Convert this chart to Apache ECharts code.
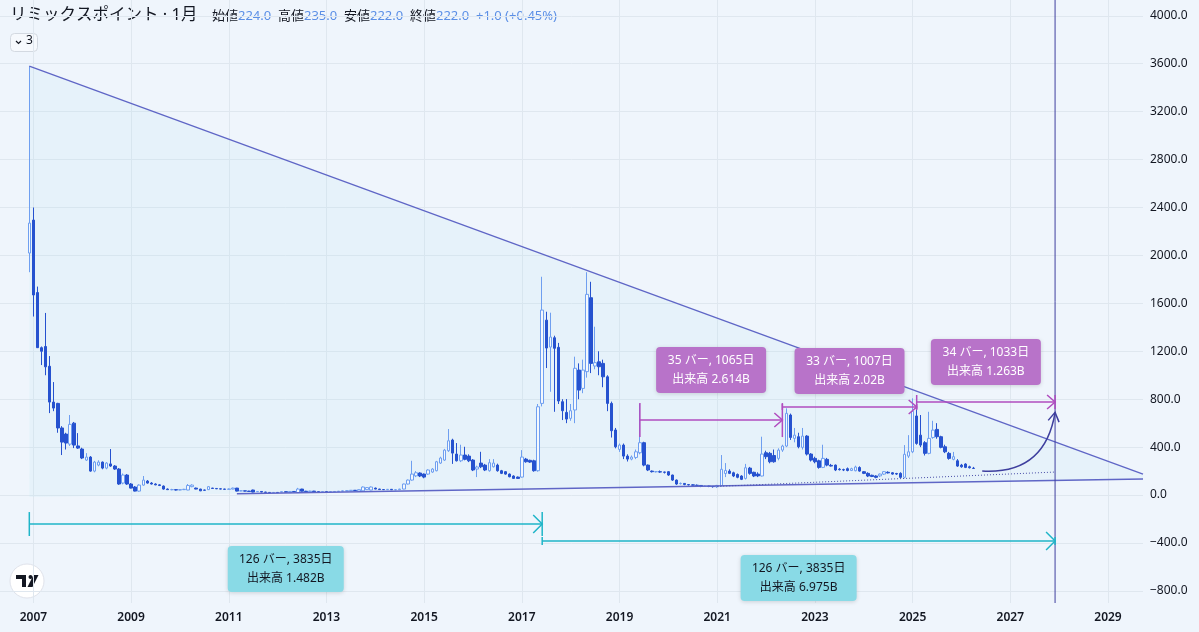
<!DOCTYPE html>
<html>
<head>
<meta charset="utf-8">
<script src="https://cdn.jsdelivr.net/npm/echarts@6/dist/echarts.min.js"></script>
<style>
  html, body { margin: 0; padding: 0; background: #eff5fc; }
  #chart { width: 1199px; height: 632px; }
</style>
</head>
<body>
<div id="chart"></div>
<script>
// months are counted from Jan 2007 (0); first candle is Dec 2006
const firstMonth = -1;
const yearLabelMonths = [0, 24, 48, 72, 96, 120, 144, 168, 192, 216, 240, 264];
const priceTicks = [-800, -400, 0, 400, 800, 1200, 1600, 2000, 2400, 2800, 3200, 3600, 4000];

// monthly candles [open, high, low, close]
const ohlc = [
  [2020, 3580, 1860, 2270], [2295, 2400, 1490, 1670], [1690, 1740, 1490, 1230], [1230, 1240, 1085, 1200],
  [1240, 1520, 1000, 1070], [1075, 1160, 684, 776], [776, 943, 700, 726], [765, 770, 520, 560],
  [560, 575, 334, 442], [509, 520, 380, 434], [425, 668, 410, 590], [600, 610, 392, 417],
  [410, 517, 385, 392], [384, 395, 300, 309], [292, 350, 285, 317], [317, 325, 195, 200],
  [200, 285, 190, 275], [250, 290, 240, 275], [275, 280, 215, 225], [225, 275, 215, 267],
  [260, 384, 235, 242], [242, 250, 210, 217], [217, 225, 85, 92], [100, 180, 90, 167],
  [167, 175, 85, 92], [92, 100, 55, 58], [67, 75, 30, 33], [33, 90, 28, 83],
  [83, 159, 78, 125], [117, 125, 95, 100], [100, 108, 88, 92], [92, 98, 82, 85],
  [85, 90, 75, 80], [75, 80, 45, 50], [50, 55, 42, 45], [45, 52, 40, 45],
  [45, 50, 38, 42], [42, 50, 40, 45], [45, 52, 42, 48], [42, 92, 40, 80],
  [70, 90, 65, 83], [58, 62, 48, 50], [50, 52, 33, 35], [42, 45, 38, 40],
  [45, 75, 42, 70], [58, 60, 52, 55], [55, 58, 50, 52], [52, 55, 48, 50],
  [50, 52, 46, 48], [48, 55, 46, 50], [50, 62, 48, 58], [58, 60, 30, 33],
  [35, 38, 32, 35], [35, 36, 30, 33], [33, 35, 28, 30], [42, 45, 22, 25],
  [28, 32, 26, 30], [30, 30, 22, 25], [25, 27, 20, 22], [22, 24, 18, 20],
  [20, 24, 18, 22], [22, 25, 19, 20], [25, 30, 24, 28], [28, 30, 22, 24],
  [20, 32, 18, 30], [30, 32, 25, 27], [20, 60, 18, 50], [50, 52, 30, 32],
  [32, 35, 26, 28], [28, 36, 25, 33], [33, 35, 26, 28], [28, 32, 22, 25],
  [25, 30, 22, 28], [28, 32, 24, 26], [26, 30, 24, 28], [28, 33, 26, 30],
  [30, 34, 27, 32], [32, 38, 30, 35], [35, 40, 32, 36], [36, 42, 34, 40],
  [40, 42, 35, 38], [33, 48, 30, 45], [35, 72, 33, 67], [45, 66, 42, 62],
  [42, 72, 40, 67], [58, 62, 48, 50], [50, 52, 44, 46], [46, 50, 42, 45],
  [45, 50, 42, 48], [48, 50, 42, 44], [44, 48, 40, 45], [45, 52, 42, 50],
  [50, 95, 48, 92], [92, 130, 88, 125], [125, 286, 120, 175], [160, 200, 150, 186],
  [184, 190, 150, 159], [175, 180, 140, 150], [175, 215, 168, 209], [192, 225, 185, 217],
  [203, 285, 198, 278], [267, 320, 260, 309], [292, 385, 285, 375], [370, 551, 360, 453],
  [459, 470, 260, 350], [342, 434, 280, 286], [286, 420, 275, 334], [334, 403, 290, 298],
  [325, 340, 275, 286], [292, 300, 200, 209], [217, 245, 150, 234], [267, 361, 225, 236],
  [250, 260, 200, 209], [203, 300, 195, 270], [236, 300, 230, 267], [250, 262, 195, 203],
  [203, 210, 175, 181], [195, 200, 170, 175], [175, 180, 148, 153], [159, 165, 135, 139],
  [150, 155, 135, 139], [150, 375, 145, 317], [300, 310, 270, 278], [290, 295, 268, 275],
  [286, 295, 195, 203], [203, 760, 195, 737], [765, 1822, 740, 1544], [1460, 1530, 1060, 1227],
  [1235, 1522, 862, 1319], [1313, 1330, 695, 1225], [1233, 1270, 760, 785], [779, 800, 626, 704],
  [690, 801, 600, 634], [640, 760, 620, 704], [710, 1155, 600, 1058], [1043, 1099, 800, 876],
  [890, 1130, 850, 1043], [1030, 1860, 980, 1675], [1647, 1780, 1018, 1099], [1077, 1405, 1050, 1105],
  [1112, 1200, 1000, 1071], [1099, 1130, 900, 987], [987, 1000, 700, 765], [765, 780, 480, 537],
  [543, 560, 390, 403], [381, 430, 360, 417], [417, 430, 300, 325], [325, 340, 280, 300],
  [300, 330, 290, 317], [314, 380, 300, 361], [353, 760, 340, 437], [437, 445, 240, 250],
  [250, 255, 200, 209], [200, 205, 188, 195], [195, 200, 188, 195], [195, 205, 185, 192],
  [192, 195, 180, 190], [195, 200, 160, 167], [167, 170, 118, 125], [125, 130, 85, 92],
  [95, 105, 88, 97], [97, 100, 82, 88], [88, 92, 80, 85], [85, 90, 78, 82],
  [82, 88, 76, 80], [80, 82, 66, 72], [72, 80, 68, 75], [75, 78, 66, 72],
  [72, 75, 62, 70], [69, 85, 60, 80], [78, 334, 72, 215], [180, 267, 150, 205],
  [200, 215, 175, 181], [186, 195, 150, 159], [172, 180, 140, 148], [159, 165, 125, 131],
  [139, 260, 130, 228], [225, 235, 170, 181], [190, 195, 150, 159], [175, 190, 150, 160],
  [159, 487, 155, 342], [353, 370, 300, 320], [348, 360, 265, 278], [330, 380, 270, 278],
  [306, 390, 290, 375], [375, 420, 360, 409], [409, 724, 400, 682], [668, 680, 460, 481],
  [473, 560, 440, 500], [487, 520, 390, 403], [398, 560, 380, 492], [492, 500, 330, 342],
  [342, 350, 280, 292], [306, 320, 265, 278], [286, 295, 220, 231], [231, 420, 225, 306],
  [298, 310, 240, 250], [248, 260, 238, 242], [250, 255, 200, 209], [216, 225, 205, 212],
  [212, 220, 200, 209], [220, 230, 198, 205], [205, 228, 200, 220], [203, 245, 198, 234],
  [230, 240, 195, 200], [195, 200, 175, 181], [181, 190, 150, 159], [165, 170, 150, 155],
  [159, 165, 140, 148], [160, 180, 150, 175], [175, 200, 168, 195], [190, 198, 180, 185],
  [186, 192, 170, 175], [180, 185, 168, 175], [181, 190, 140, 148], [148, 417, 140, 340],
  [325, 500, 310, 361], [361, 807, 350, 700], [660, 735, 420, 431], [500, 668, 400, 417],
  [437, 450, 330, 348], [348, 695, 340, 473], [481, 620, 470, 542], [548, 600, 470, 487],
  [487, 495, 390, 398], [403, 420, 350, 361], [348, 360, 295, 306], [298, 360, 290, 320],
  [286, 300, 235, 242], [250, 260, 228, 236], [259, 265, 225, 231], [236, 245, 222, 228],
  [224, 235, 222, 222]
];

// drawings (month, price)
const triangleTop = [[-1, 3581], [272.6, 175]];
const triangleBottom = [[-1, -17], [272.6, 134]];
const supportLine = [[50, 11], [272.6, 134]];
const dottedLine = [[168, 72], [251, 192]];
const markerMonth = 251;
const curvePoints = [[233.1, 200], [248.5, 170], [251, 690]];

// date ranges: start month, end month, top price, bottom price
const rangeStart = [-1, 125, 149, 184, 217];
const rangeEnd = [125, 251, 184, 217, 251];
const rangeTop = [-142, -351, 768, 760, 835];
const rangeBottom = [-342, -417, 484, 710, 718];
const rangeLine1 = ['126 バー, 3835日', '126 バー, 3835日', '35 バー, 1065日', '33 バー, 1007日', '34 バー, 1033日'];
const rangeLine2 = ['出来高 1.482B', '出来高 6.975B', '出来高 2.614B', '出来高 2.02B', '出来高 1.263B'];

const FONT = '"Noto Sans", "Noto Sans CJK JP", sans-serif';
const chart = echarts.init(document.getElementById('chart'));

const candleData = ohlc.map((d, i) => [firstMonth + i, d[0], d[3], d[2], d[1]]);

function chevron(tip, dx, dy, len, spread) {
    const n = Math.sqrt(dx * dx + dy * dy);
    const ux = dx / n, uy = dy / n;
    const px = -uy, py = ux;
    return [
        [tip[0] - ux * len + px * spread, tip[1] - uy * len + py * spread],
        tip,
        [tip[0] - ux * len - px * spread, tip[1] - uy * len - py * spread]
    ];
}

const option = {
    backgroundColor: '#eff5fc',
    animation: false,
    grid: { left: 0, right: 56, top: 0, bottom: 29 },
    xAxis: {
        type: 'value', min: -8.2, max: 272.6,
        axisLine: { show: false },
        axisTick: { show: false, customValues: yearLabelMonths },
        splitLine: { show: true, lineStyle: { color: '#dfe7ef', width: 1 } },
        axisLabel: {
            customValues: yearLabelMonths, margin: 9,
            color: '#131722', fontSize: 12, fontWeight: 600, fontFamily: FONT,
            formatter: v => String(2007 + Math.round(v / 12))
        }
    },
    yAxis: {
        type: 'value', position: 'right', min: -901, max: 4132, scale: true,
        axisLine: { show: false },
        axisTick: { show: false, customValues: priceTicks },
        splitLine: { show: true, lineStyle: { color: '#dfe7ef', width: 1 } },
        axisLabel: {
            customValues: priceTicks, margin: 7, align: 'left',
            color: '#131722', fontSize: 12, fontFamily: FONT,
            formatter: v => (v < 0 ? '\u2212' + (-v).toFixed(1) : v.toFixed(1))
        }
    },
    graphic: [
        { type: 'text', left: 10, top: 7, style: { text: 'リミックスポイント · 1月', fill: '#131722', fontSize: 16.5, fontFamily: FONT } },
        {
            type: 'text', left: 212, top: 10,
            style: {
                text: '{l|始値}{v|224.0}  {l|高値}{v|235.0}  {l|安値}{v|222.0}  {l|終値}{v|222.0}  {v|+1.0 (+0.45%)}',
                fontFamily: FONT, fontSize: 13,
                rich: {
                    l: { fill: '#131722', fontSize: 13, fontFamily: FONT },
                    v: { fill: '#5b8fe6', fontSize: 13, fontFamily: FONT }
                }
            }
        },
        { type: 'rect', shape: { x: 10.5, y: 33.5, width: 27, height: 18, r: 4 }, style: { fill: '#f6f9fd', stroke: '#d3d9e1', lineWidth: 1 } },
        { type: 'polyline', shape: { points: [[16, 41], [18.5, 43.5], [21, 41]] }, style: { stroke: '#131722', lineWidth: 1.2, fill: null } },
        { type: 'text', left: 26, top: 35, style: { text: '3', fill: '#131722', fontSize: 12, fontFamily: FONT } },
        { type: 'circle', shape: { cx: 27, cy: 581, r: 17 }, style: { fill: '#ffffff', stroke: '#e0e3eb', lineWidth: 1 } },
        { type: 'rect', shape: { x: 16, y: 575, width: 10, height: 4 }, style: { fill: '#131722' } },
        { type: 'rect', shape: { x: 22, y: 575, width: 4, height: 12 }, style: { fill: '#131722' } },
        { type: 'circle', shape: { cx: 30.5, cy: 577, r: 2 }, style: { fill: '#131722' } },
        { type: 'polygon', shape: { points: [[33.5, 575], [38.5, 575], [32.5, 587], [27.5, 587]] }, style: { fill: '#131722' } }
    ],
    series: [
        {
            type: 'custom', z: 1, silent: true, data: [[0, 0]],
            renderItem: (params, api) => {
                const pts = [triangleTop[0], triangleTop[1], triangleBottom[1], triangleBottom[0]].map(p => api.coord(p));
                return { type: 'polygon', shape: { points: pts }, style: { fill: 'rgba(180, 230, 242, 0.14)' } };
            }
        },
        {
            type: 'candlestick', z: 3, barWidth: 3,
            data: candleData,
            encode: { x: 0, y: [1, 2, 3, 4] },
            itemStyle: {
                color: '#f4f8fe', color0: '#2652cf',
                borderColor: '#6f9ff0', borderColor0: '#2652cf', borderWidth: 1
            }
        },
        {
            type: 'line', z: 4, silent: true, symbol: 'none', data: triangleTop,
            lineStyle: { color: '#5f66c6', width: 1.3 }
        },
        {
            type: 'line', z: 4, silent: true, symbol: 'none', data: supportLine,
            lineStyle: { color: '#5f66c6', width: 1.3 }
        },
        {
            type: 'line', z: 4, silent: true, symbol: 'none', data: dottedLine,
            lineStyle: { color: '#4a4fa8', width: 1, type: [1, 2] }
        },
        {
            type: 'line', z: 4, silent: true, symbol: 'none', clip: false,
            data: [[markerMonth, -901], [markerMonth, 4132]],
            lineStyle: { color: '#3e3f9e', width: 1 }
        },
        {
            type: 'custom', z: 5, silent: true, data: [[0, 0]],
            renderItem: (params, api) => {
                const p = curvePoints.map(c => api.coord(c));
                const head = chevron(p[2], p[2][0] - p[1][0], p[2][1] - p[1][1], 9, 5.5);
                return {
                    type: 'group', children: [
                        { type: 'bezierCurve', shape: { x1: p[0][0], y1: p[0][1], cpx1: p[1][0], cpy1: p[1][1], x2: p[2][0], y2: p[2][1] }, style: { stroke: '#3e3f9e', lineWidth: 1.5, fill: null } },
                        { type: 'polyline', shape: { points: head }, style: { stroke: '#3e3f9e', lineWidth: 1.5, fill: null } }
                    ]
                };
            }
        },
        {
            type: 'custom', z: 6, silent: true,
            data: rangeStart.map((s, i) => [s, rangeEnd[i], rangeTop[i], rangeBottom[i]]),
            renderItem: (params, api) => {
                const i = params.dataIndex;
                const a = api.coord([api.value(0), api.value(2)]);
                const b = api.coord([api.value(1), api.value(3)]);
                const x0 = a[0], x1 = b[0], yT = a[1], yB = b[1];
                const yM = (yT + yB) / 2;
                const cyan = rangeBottom[i] < 0;
                const lineCol = cyan ? '#1fb5c8' : '#b04cbf';
                const boxCol = cyan ? '#89dae6' : '#b873c9';
                const txtCol = cyan ? '#131722' : '#ffffff';
                const w = cyan ? 116 : 110, h = 46;
                const bx = (x0 + x1) / 2 - w / 2;
                const by = cyan ? yB + 10 : yT - 10 - h;
                const head = cyan ? chevron([x1, yM], 1, 0, 9, 9) : chevron([x1, yM], 1, 0, 8, 7);
                return {
                    type: 'group', children: [
                        { type: 'line', shape: { x1: x0, y1: yT, x2: x0, y2: yB }, style: { stroke: lineCol, lineWidth: 1.5 } },
                        { type: 'line', shape: { x1: x1, y1: yT, x2: x1, y2: yB }, style: { stroke: lineCol, lineWidth: 1.5 } },
                        { type: 'line', shape: { x1: x0, y1: yM, x2: x1, y2: yM }, style: { stroke: lineCol, lineWidth: 1.5 } },
                        { type: 'polyline', shape: { points: head }, style: { stroke: lineCol, lineWidth: 1.5, fill: null } },
                        {
                            type: 'rect', shape: { x: bx, y: by, width: w, height: h, r: 4 },
                            style: { fill: boxCol, shadowBlur: 4, shadowColor: 'rgba(0,0,0,0.15)', shadowOffsetY: 1 }
                        },
                        { type: 'text', style: { text: rangeLine1[i], x: bx + w / 2, y: by + 14, align: 'center', verticalAlign: 'middle', fill: txtCol, fontSize: 12, fontFamily: FONT } },
                        { type: 'text', style: { text: rangeLine2[i], x: bx + w / 2, y: by + 33, align: 'center', verticalAlign: 'middle', fill: txtCol, fontSize: 12, fontFamily: FONT } }
                    ]
                };
            }
        }
    ]
};

chart.setOption(option);
</script>
</body>
</html>
